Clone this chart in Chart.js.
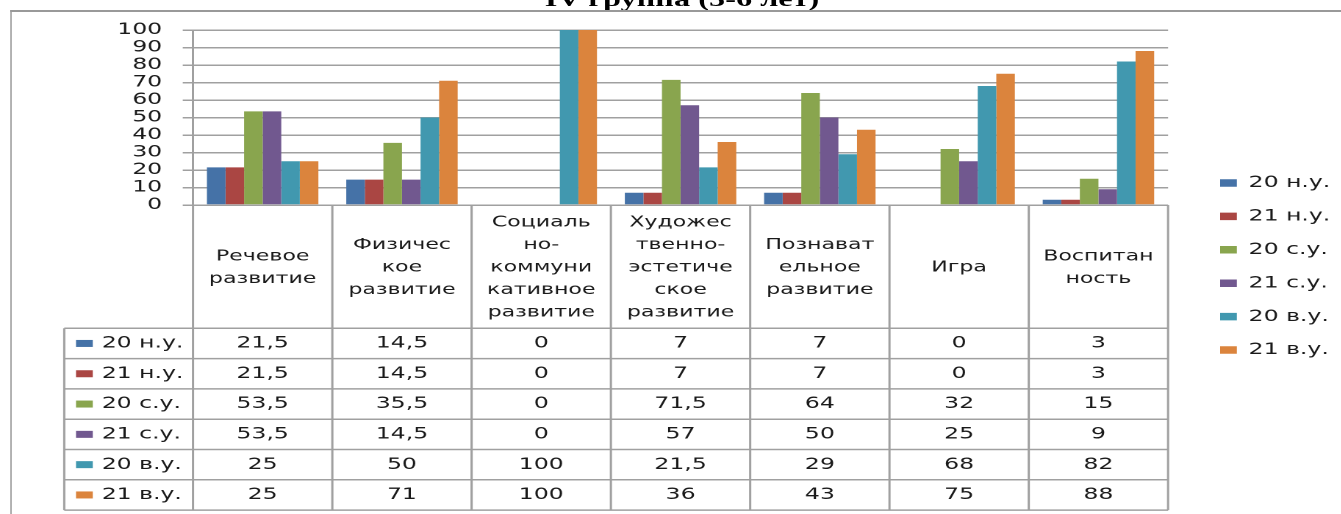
<!DOCTYPE html>
<html>
<head>
<meta charset="utf-8">
<script src="https://cdn.jsdelivr.net/npm/chart.js@4/dist/chart.umd.min.js"></script>
<style>
html, body { margin: 0; padding: 0; width: 1341px; height: 514px; overflow: hidden; background: #fff; }
/* the whole picture is stretched sideways, so draw narrow and scale */
#wrap { position: absolute; left: 0; top: 0; width: 912px; height: 514px; transform: scaleX(1.47); transform-origin: 0 0; }
#title { position: absolute; left: 0; width: 928px; top: -12px; text-align: center; font: bold 22px "Liberation Serif", serif; line-height: 22px; color: #000; white-space: nowrap; }
#frame { position: absolute; left: 7.3px; top: 10px; width: 1000px; height: 600px; border-left: 1.4px solid #999; border-top: 2px solid #999; }
#myChart { position: absolute; left: 0; top: 0; }
</style>
</head>
<body>
<div id="wrap">
  <div id="title">IV группа (5-6 лет)</div>
  <div id="frame"></div>
  <canvas id="myChart"></canvas>
</div>
<script>
var categories = [
    ["Речевое", "развитие"],
    ["Физичес", "кое", "развитие"],
    ["Социаль", "но-", "коммуни", "кативное", "развитие"],
    ["Художес", "твенно-", "эстетиче", "ское", "развитие"],
    ["Познават", "ельное", "развитие"],
    ["Игра"],
    ["Воспитан", "ность"]
];
var seriesNames = ["20 н.у.", "21 н.у.", "20 с.у.", "21 с.у.", "20 в.у.", "21 в.у."];
var low20 = [21.5, 14.5, 0, 7, 7, 0, 3];
var low21 = [21.5, 14.5, 0, 7, 7, 0, 3];
var mid20 = [53.5, 35.5, 0, 71.5, 64, 32, 15];
var mid21 = [53.5, 14.5, 0, 57, 50, 25, 9];
var high20 = [25, 50, 100, 21.5, 29, 68, 82];
var high21 = [25, 71, 100, 36, 43, 75, 88];
var seriesColors = ['#4572A7', '#AA4643', '#89A54E', '#71588F', '#4198AF', '#DB843D'];

var FONT = '"DejaVu Sans"';
var lineColor = '#a0a0a0';
var textColor = '#1a1a1a';

function fmt(v){
    return String(v).replace('.', ',');
}

// draws the Excel-style data table under the plot, using the x scale columns
var dataTable = {
    id: 'dataTable',
    afterDraw: function(chart) {
        var ctx = chart.ctx;
        var area = chart.chartArea;
        var xs = chart.scales.x;
        var n = categories.length;
        var step = (area.right - area.left) / n;
        var top = area.bottom;
        var headBottom = top + 123.3;
        var rowH = 30.3;
        var tableLeft = 43.7;
        var rows = chart.data.datasets.length;
        var bottom = headBottom + rowH * rows;

        ctx.save();
        ctx.strokeStyle = lineColor;
        ctx.lineWidth = 1.5;
        ctx.beginPath();
        for (var i = 0; i <= n; i++) {
            var bx = area.left + step * i;
            ctx.moveTo(bx, top);
            ctx.lineTo(bx, bottom);
        }
        for (var r = 0; r <= rows; r++) {
            var by = headBottom + rowH * r;
            ctx.moveTo(tableLeft, by);
            ctx.lineTo(area.right, by);
        }
        ctx.moveTo(tableLeft, headBottom);
        ctx.lineTo(tableLeft, bottom);
        ctx.stroke();

        ctx.fillStyle = textColor;
        ctx.font = '15px ' + FONT;
        ctx.textAlign = 'center';
        ctx.textBaseline = 'middle';
        var midHead = (top + headBottom) / 2 + 1;
        var lh = 22.5;
        for (var c = 0; c < n; c++) {
            var cx = xs.getPixelForValue(c);
            var lines = categories[c];
            var y0 = midHead - (lines.length - 1) * lh / 2;
            for (var k = 0; k < lines.length; k++) {
                ctx.fillText(lines[k], cx, y0 + k * lh);
            }
        }

        ctx.font = '16px ' + FONT;
        chart.data.datasets.forEach(function(ds, r) {
            var cy = headBottom + rowH * (r + 0.5);
            ctx.fillStyle = ds.backgroundColor;
            ctx.fillRect(51.7, cy - 3.5, 11.4, 7);
            ctx.fillStyle = textColor;
            ctx.textAlign = 'left';
            ctx.fillText(ds.label, 69.2, cy);
            ctx.textAlign = 'center';
            for (var c = 0; c < n; c++) {
                ctx.fillText(fmt(ds.data[c]), xs.getPixelForValue(c), cy);
            }
        });
        ctx.restore();
    }
};

// leave a gap between the plot and the legend on the right
var legendGap = 18;
function placeLegend(chart) {
    var lg = chart.legend;
    if (!lg) return;
    lg.left = chart.chartArea.right + legendGap;
    lg.right = lg.left + lg.width;
}
var legendShift = {
    id: 'legendShift',
    afterLayout: placeLegend,
    beforeDraw: placeLegend
};

var allSeries = [low20, low21, mid20, mid21, high20, high21];
var datasets = [];
for (var s = 0; s < allSeries.length; s++) {
    datasets.push({
        label: seriesNames[s],
        data: allSeries[s],
        backgroundColor: seriesColors[s],
        borderWidth: 0,
        categoryPercentage: 0.8,
        barPercentage: 1.0
    });
}

// size the canvas so the plot ends where the reference plot ends
var measure = document.createElement('canvas').getContext('2d');
measure.font = '16px ' + FONT;
var longest = 0;
seriesNames.forEach(function(t){ longest = Math.max(longest, measure.measureText(t).width); });
var plotRight = 794.6, legPad = 17.4, boxW = 11.4;
var canvasW = plotRight + legendGap + legPad + boxW + 8 + longest + 10;

var cv = document.getElementById('myChart');
cv.width = Math.ceil(canvasW);
cv.height = 514;

new Chart(cv, {
    type: 'bar',
    data: {
        labels: categories.map(function(c){ return c.join(' '); }),
        datasets: datasets
    },
    options: {
        responsive: false,
        animation: false,
        devicePixelRatio: 2,
        layout: { padding: { top: 30, bottom: 11, left: 0, right: cv.width - canvasW + legendGap } },
        plugins: {
            legend: {
                position: 'right',
                labels: {
                    boxWidth: boxW,
                    boxHeight: 7.5,
                    padding: legPad,
                    color: textColor,
                    font: { family: FONT, size: 16 }
                }
            },
            tooltip: { enabled: false }
        },
        scales: {
            x: {
                grid: { display: false },
                border: { display: false },
                ticks: { display: false },
                afterFit: function(scale) { scale.height = 298; }
            },
            y: {
                min: 0,
                max: 100,
                ticks: {
                    stepSize: 10,
                    autoSkip: false,
                    padding: 14,
                    color: textColor,
                    font: { family: FONT, size: 16, lineHeight: 1 }
                },
                grid: { color: lineColor, lineWidth: 1.5, tickLength: 7 },
                border: { color: lineColor, width: 1.5 },
                afterFit: function(scale) { scale.width = 131.3; }
            }
        }
    },
    plugins: [dataTable, legendShift]
});
</script>
</body>
</html>
